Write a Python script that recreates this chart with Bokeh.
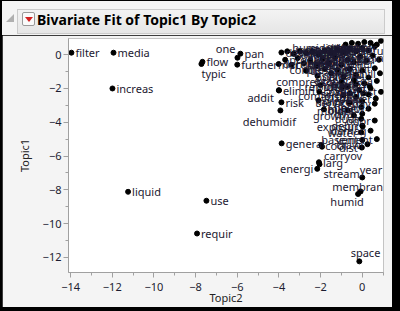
from bokeh.plotting import figure
from bokeh.layouts import column
from bokeh.models import Range1d, FixedTicker, ColumnDataSource, Div
from bokeh.core.properties import value, field
from bokeh.embed import file_html
from bokeh.resources import INLINE

# ---------------- data ----------------
words = [
    "filter", "media", "increas", "flow", "typic", "one", "pan", "furthermor",
    "elimin", "addit", "risk", "dehumidif", "general", "cool", "carryov",
    "larg", "stream", "energi", "year", "membran", "humid", "use", "liquid",
    "requir", "space",
    # dense cluster
    "design", "desicc", "standard", "dri", "moistur", "remov", "air", "temperatur",
    "condit", "load", "indoor", "supply", "exhaust", "wheel", "latent", "sensibl",
    "sensor", "dehumidifi", "product", "control", "ventil", "effici", "outdoor",
    "recoveri", "process", "regener", "dewpoint", "zone", "applic", "perform",
    "capac", "rate", "coil", "fan", "us", "system", "unit", "reduc", "condens",
    "oper", "pressur", "level", "room", "rel", "point", "chill", "offer", "cost",
    "compressor", "refriger", "evapor", "valv", "mode", "set", "ga", "prevent",
    "comfort", "servic", "instal", "build", "mainten", "hour", "day", "heat",
    "hvac", "dual", "debri", "exposur", "water", "vent", "dist",
    "ambient", "humidistat", "filtrat", "duct", "blower", "motor",
    "rotor", "silica", "gel", "cycl", "batteri", "power", "defrost",
    "mold", "growth", "mildew", "odor", "damag", "basement", "crawl",
]
topic2 = [
    -13.96, -11.94, -11.99, -7.67, -7.72, -5.99, -5.85, -6.00,
    -4.00, -4.00, -3.88, -3.93, -3.87, -1.97, -1.93,
    -2.08, -2.05, -2.16, 0.00, -0.08, -0.20, -7.48, -11.24,
    -7.93, -0.14,
    -3.88, -3.60, -3.30, -3.00, -2.70, -2.40, -2.10, -1.80,
    -1.50, -1.20, -0.90, -0.60, -0.30, 0.00, 0.30, 0.60,
    0.90, -4.01, -3.70, -3.40, -3.10, -2.80, -2.50,
    -2.20, -1.90, -1.60, -1.30, -1.00, -0.70, -0.40,
    -0.10, 0.20, 0.50, 0.80, -2.70, -2.15, -1.80, -1.50, -1.20,
    -0.90, -0.60, -0.30, 0.00, 0.30, 0.60, 0.85, -2.00, -2.06,
    -1.00, -0.70, -0.40, -0.15, 0.10, 0.40, 0.70, -2.10,
    -0.90, -0.60, -0.30, -1.84, 0.00, 0.30, 0.60, -0.05,
    0.00, -0.05, 0.00, 0.02, -0.05, 0.00, -0.02,
    -0.80, -0.50, -0.20, 0.10, 0.40, 0.70,
    -0.95, -0.60, -0.30, 0.05, 0.35, 0.65, 0.90,
    -0.70, -0.40, 0.30, 0.60, 0.40, 0.70, 0.25,
]
topic1 = [
    0.12, 0.12, -2.00, -0.42, -0.55, -0.18, 0.06, -0.59,
    -2.10, -2.12, -2.82, -3.30, -5.25, -5.35, -5.45,
    -6.37, -6.49, -6.76, -7.27, -8.10, -8.25, -8.65, -8.12,
    -10.59, -12.24,
    0.13, 0.20, 0.05, 0.22, 0.10, 0.18, 0.00, 0.25,
    0.12, 0.30, 0.15, 0.35, 0.20, 0.40, 0.25, 0.50,
    0.82, -0.55, -0.30, -0.60, -0.20, -0.50, -0.35,
    -0.65, -0.25, -0.50, -0.15, -0.60, -0.30, -0.45,
    -0.10, -0.35, -0.05, -0.30, -0.95, -1.25, -0.85, -1.10, -0.90,
    -1.30, -0.85, -1.20, -0.95, -1.35, -0.80, -1.10, -1.80, -2.20,
    -1.60, -1.90, -1.50, -2.10, -1.70, -2.00, -1.55, -2.70,
    -2.40, -2.85, -2.50, -3.24, -2.75, -2.35, -2.90, -3.10,
    -3.50, -3.80, -4.20, -4.25, -4.60, -5.05, -5.50,
    0.60, 0.70, 0.65, 0.75, 0.70, 0.60,
    -1.90, -2.30, -1.75, -2.30, -1.85, -2.60, -2.20,
    -3.30, -3.60, -3.20, -3.90, -4.50, -5.00, -5.30,
]

x_ticks = [-14, -12, -10, -8, -6, -4, -2, 0]
x_minor = [-13, -11, -9, -7, -5, -3, -1, 1]
y_ticks = [0, -2, -4, -6, -8, -10, -12]
y_minor = [1, -1, -3, -5, -7, -9, -11]

title_text = "Bivariate Fit of Topic1 By Topic2"

# label placement (style only): align, x offset px, y offset px (down positive)
placement = {
    "typic": ("left", 0, 10),
    "one": ("right", -2, -9),
    "addit": ("right", -5, 7),
    "dehumidif": ("center", -11, 11),
    "carryov": ("left", 2, 9),
    "stream": ("left", 4, 9),
    "energi": ("right", -4, 0),
    "year": ("right", 20, -8),
    "membran": ("center", -3, -5),
    "humid": ("center", -11, 8),
    "space": ("right", 21, -9),
    "sensor": ("right", -4, 7),
}


def place(w, xv, yv):
    if w in placement:
        return placement[w]
    if xv > -1.3:          # keep labels near the right edge inside the frame
        return ("right", -4, 5 if yv > 0.55 else 0)
    return ("left", 4, 0)


pl = [place(w, xv, yv) for w, xv, yv in zip(words, topic2, topic1)]
src = ColumnDataSource(dict(x=topic2, y=topic1, w=words,
                            al=[a for a, _, _ in pl],
                            dx=[d for _, d, _ in pl],
                            dy=[d for _, _, d in pl]))

BG = "#F4F4F4"
FONT = "Noto Sans"
LABEL_COLOR = "#1b1830"

# ---------------- header (title bar) ----------------
header_html = (
    '<div style="position:relative;width:390px;height:34px;background:%s;'
    'font-family:\'Noto Sans\',sans-serif;overflow:hidden;">'
    '<div style="position:absolute;left:4px;top:13px;width:0;height:0;'
    'border-left:8px solid transparent;border-bottom:8px solid #B0B0B0;"></div>'
    '<div style="position:absolute;left:15px;top:8px;width:368px;height:25px;'
    'box-sizing:border-box;border:1px solid #CBCBCB;'
    'background:linear-gradient(#F3F3F3,#E6E6E6);"></div>'
    '<div style="position:absolute;left:20px;top:11px;width:13px;height:14px;'
    'box-sizing:border-box;border:1px solid #9A9A9A;border-radius:2px;'
    'background:#FAFAFA;"></div>'
    '<div style="position:absolute;left:22.5px;top:16px;width:0;height:0;'
    'border-left:4px solid transparent;border-right:4px solid transparent;'
    'border-top:5px solid #D42020;"></div>'
    '<div style="position:absolute;left:35px;top:9px;font-weight:bold;'
    'font-size:14px;line-height:20px;color:#000;white-space:nowrap;">%s</div>'
    '</div>'
) % (BG, title_text)
hdr = Div(text=header_html, width=390, height=34, margin=(0, 0, 0, 0))

# ---------------- main scatter ----------------
p = figure(width=390, height=272, output_backend="svg", toolbar_location=None,
           x_range=Range1d(-14.1, 1.02), y_range=Range1d(-12.9, 0.96),
           min_border_left=66, min_border_right=9, min_border_top=3,
           min_border_bottom=34, background_fill_color="white",
           border_fill_color=BG, outline_line_color="#C4C4C4")
p.grid.visible = False

for ax, ticks, minor, lab in ((p.xaxis[0], x_ticks, x_minor, "Topic2"),
                              (p.yaxis[0], y_ticks, y_minor, "Topic1")):
    ax.ticker = FixedTicker(ticks=ticks, minor_ticks=minor)
    ax.axis_label = lab
    ax.axis_label_text_font = FONT
    ax.axis_label_text_font_size = "11px"
    ax.axis_label_text_font_style = "normal"
    ax.axis_label_text_color = "#222222"
    ax.major_label_text_font = FONT
    ax.major_label_text_font_size = "11px"
    ax.major_label_text_color = "#1c1c30"
    ax.axis_line_color = "#A0A0A0"
    ax.major_tick_line_color = "#A0A0A0"
    ax.minor_tick_line_color = "#A0A0A0"
    ax.major_tick_in = 0
    ax.major_tick_out = 5
    ax.minor_tick_in = 0
    ax.minor_tick_out = 3
p.xaxis.major_label_standoff = 5
p.xaxis.axis_label_standoff = -4
p.yaxis.major_label_standoff = 2
p.yaxis.axis_label_standoff = 8

p.scatter("x", "y", source=src, size=5, color="black")
p.text("x", "y", text="w", source=src, text_align=field("al"),
       x_offset=field("dx"), y_offset=field("dy"), text_baseline="middle",
       text_font=value(FONT), text_font_size=value("11px"), text_color=LABEL_COLOR)

layout = column(hdr, p, spacing=0,
                styles={"background-color": "black",
                        "padding": "1px 8px 4px 2px"})

open("out.html", "w").write(file_html(layout, INLINE))
